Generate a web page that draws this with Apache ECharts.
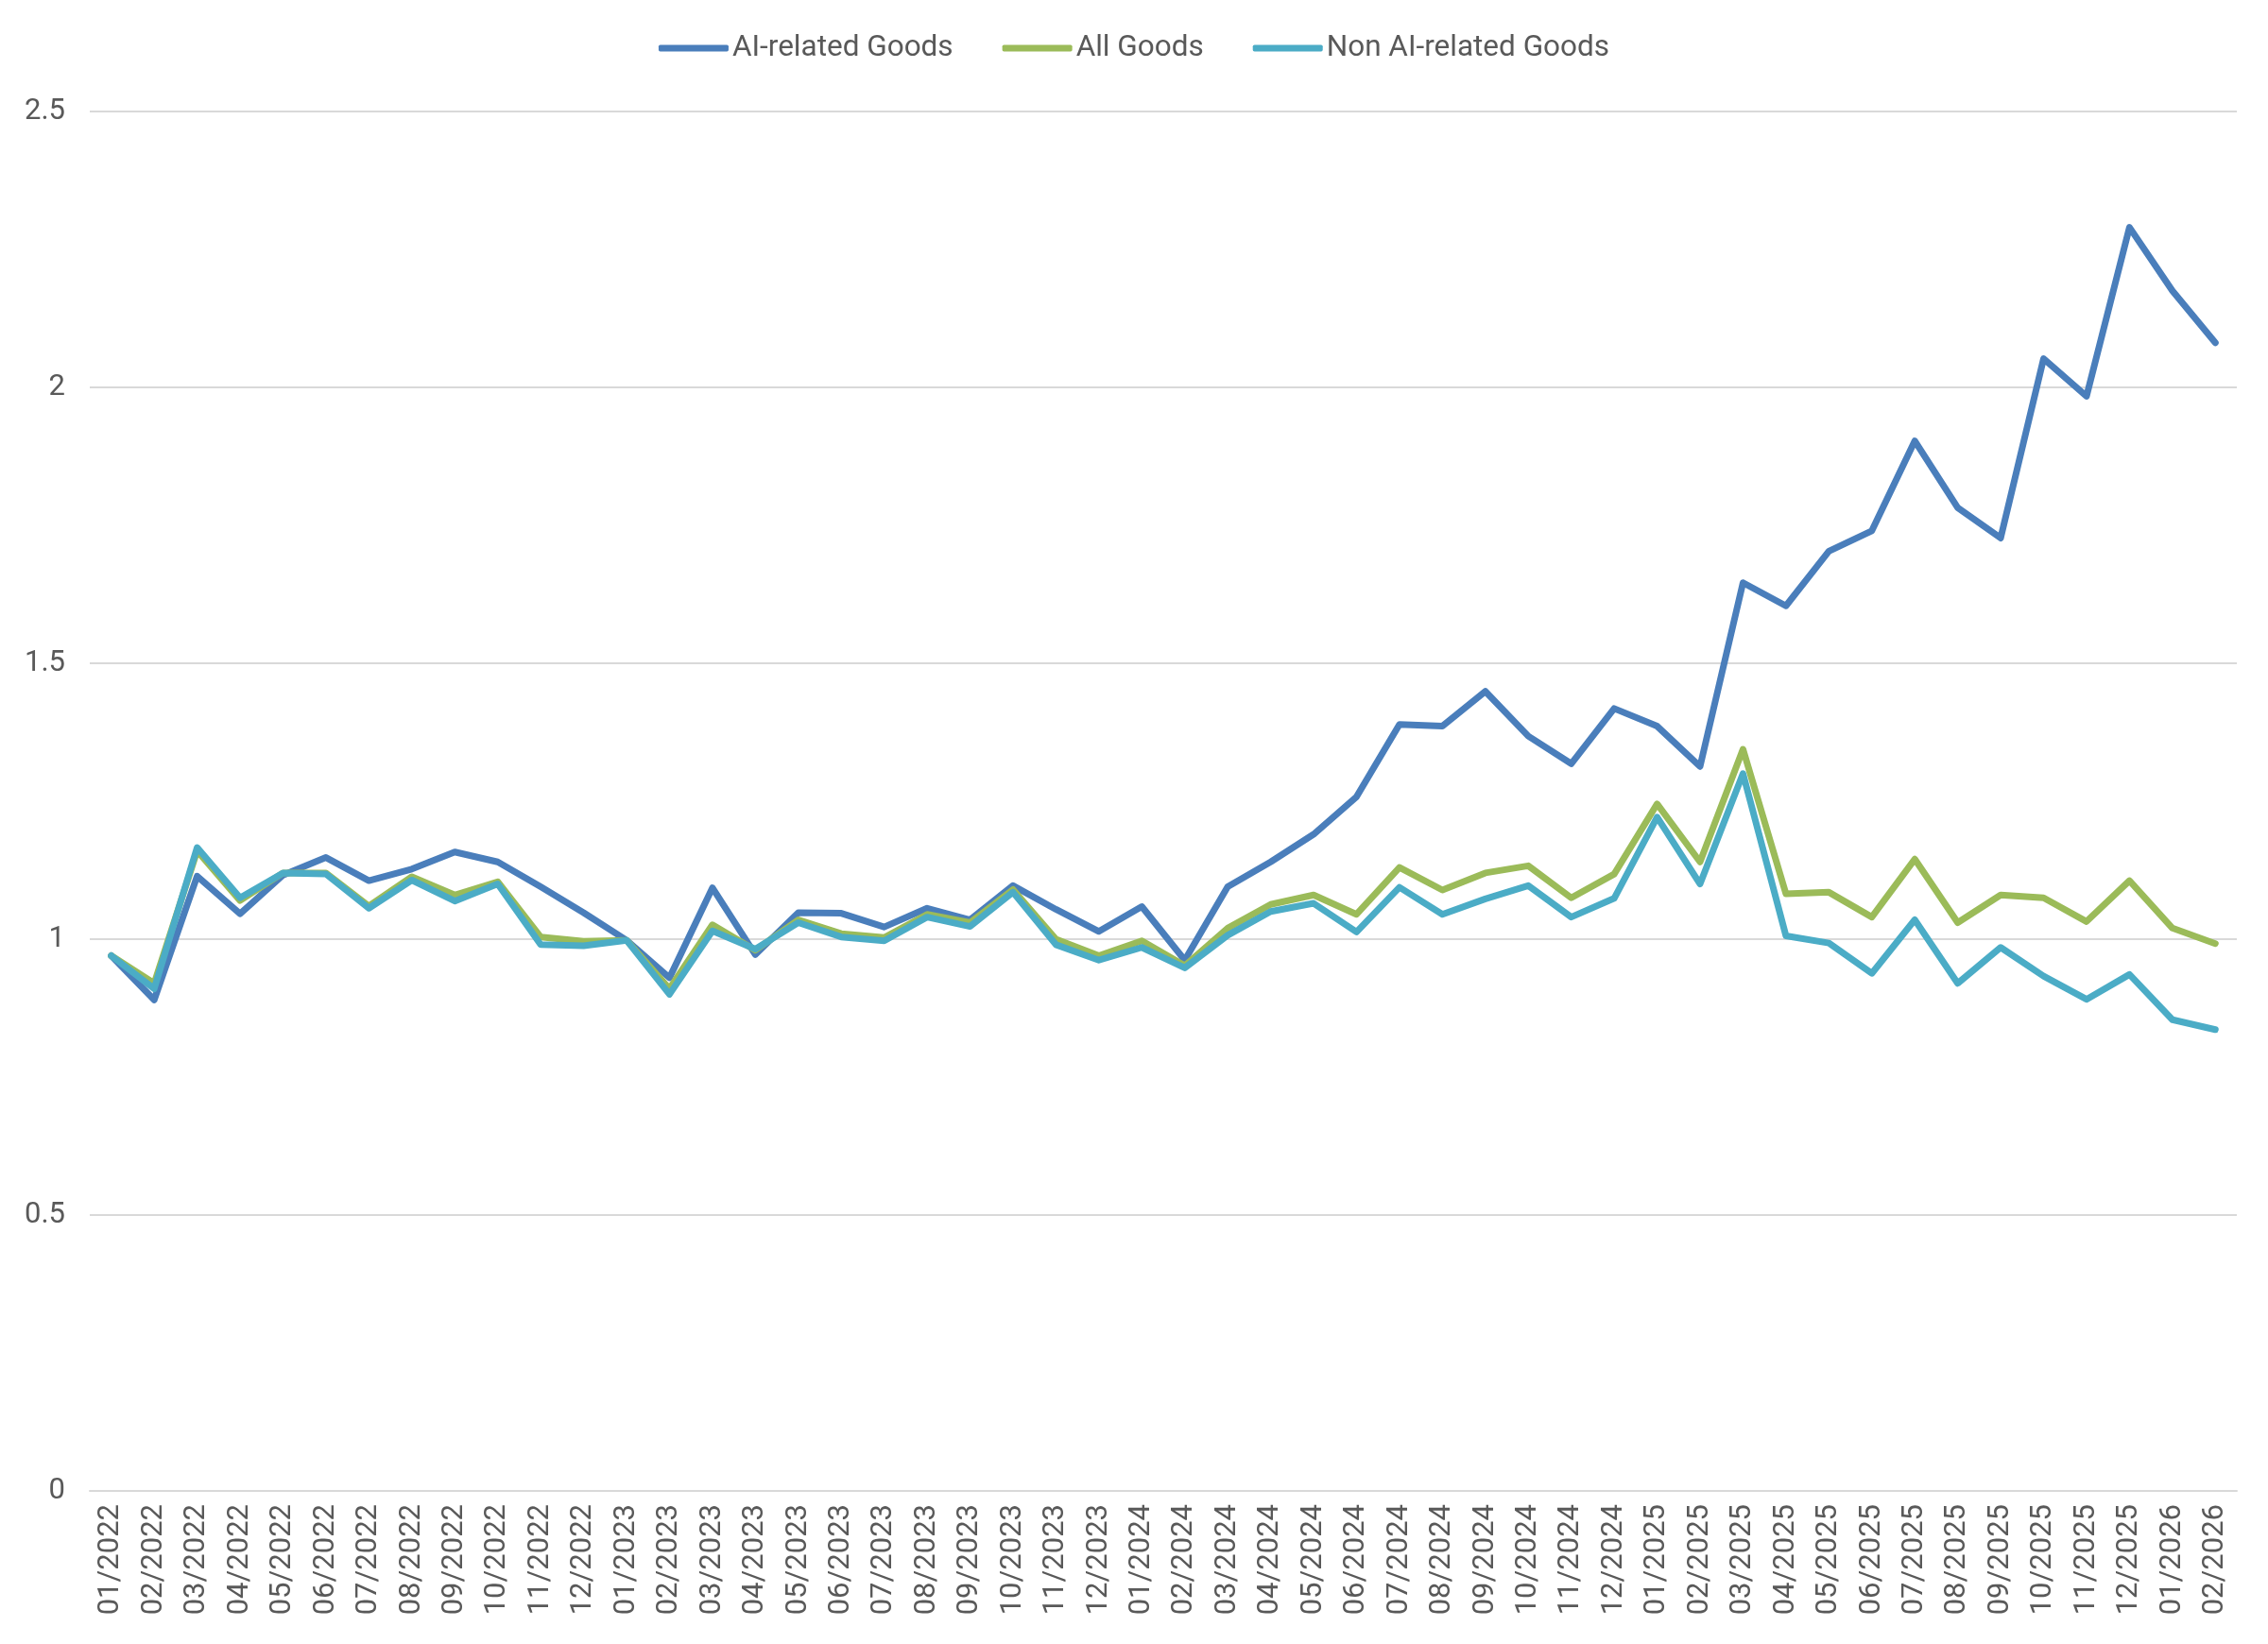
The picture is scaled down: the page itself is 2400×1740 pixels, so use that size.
<!DOCTYPE html>
<html>
<head>
<meta charset="utf-8">
<script src="https://cdn.jsdelivr.net/npm/echarts@6/dist/echarts.min.js"></script>
<style>
  html, body { margin: 0; padding: 0; background: #fff; }
  #chart { width: 2400px; height: 1740px; }
</style>
</head>
<body>
<div id="chart"></div>
<script>
const months = [
  '01/2022', '02/2022', '03/2022', '04/2022', '05/2022', '06/2022', '07/2022', '08/2022', '09/2022', '10/2022', '11/2022', '12/2022',
  '01/2023', '02/2023', '03/2023', '04/2023', '05/2023', '06/2023', '07/2023', '08/2023', '09/2023', '10/2023', '11/2023', '12/2023',
  '01/2024', '02/2024', '03/2024', '04/2024', '05/2024', '06/2024', '07/2024', '08/2024', '09/2024', '10/2024', '11/2024', '12/2024',
  '01/2025', '02/2025', '03/2025', '04/2025', '05/2025', '06/2025', '07/2025', '08/2025', '09/2025', '10/2025', '11/2025', '12/2025',
  '01/2026', '02/2026'
];

const aiGoods = [
  0.97, 0.89, 1.114, 1.046, 1.116, 1.148, 1.106, 1.127, 1.158, 1.14, 1.095, 1.048,
  0.998, 0.93, 1.093, 0.972, 1.048, 1.047, 1.022, 1.056, 1.035, 1.097, 1.054, 1.014,
  1.059, 0.962, 1.095, 1.14, 1.19, 1.258, 1.389, 1.386, 1.449, 1.368, 1.318, 1.418,
  1.386, 1.313, 1.646, 1.604, 1.703, 1.74, 1.903, 1.782, 1.727, 2.052, 1.984, 2.29,
  2.175, 2.081
];

const allGoods = [
  0.97, 0.92, 1.16, 1.07, 1.12, 1.12, 1.06, 1.113, 1.08, 1.104, 1.004, 0.996,
  0.998, 0.91, 1.026, 0.98, 1.035, 1.01, 1.003, 1.045, 1.03, 1.09, 1.0, 0.97,
  0.997, 0.952, 1.02, 1.063, 1.08, 1.045, 1.13, 1.089, 1.12, 1.133, 1.075, 1.118,
  1.245, 1.14, 1.344, 1.082, 1.085, 1.04, 1.145, 1.03, 1.08, 1.075, 1.032, 1.106,
  1.02, 0.992
];

const nonAiGoods = [
  0.97, 0.91, 1.166, 1.075, 1.12, 1.118, 1.056, 1.107, 1.069, 1.10, 0.99, 0.988,
  0.998, 0.90, 1.015, 0.982, 1.03, 1.004, 0.997, 1.04, 1.023, 1.085, 0.99, 0.962,
  0.985, 0.948, 1.007, 1.05, 1.065, 1.013, 1.094, 1.045, 1.073, 1.097, 1.04, 1.074,
  1.221, 1.10, 1.30, 1.006, 0.993, 0.938, 1.035, 0.92, 0.985, 0.933, 0.891, 0.936,
  0.854, 0.836
];

var chartDom = document.getElementById('chart');
var myChart = echarts.init(chartDom);

var textColor = '#595959';
var fontFamily = 'Roboto, sans-serif';

var option = {
  backgroundColor: '#ffffff',
  animation: false,
  legend: {
    top: 30,
    left: 'center',
    icon: 'roundRect',
    itemWidth: 74,
    itemHeight: 7,
    itemGap: 52,
    textStyle: {
      color: textColor,
      fontSize: 31.5,
      fontFamily: fontFamily,
      padding: [0, 0, 0, -1]
    },
    data: ['AI-related Goods', 'All Goods', 'Non AI-related Goods']
  },
  grid: {
    left: 95,
    right: 33,
    top: 118,
    bottom: 162,
    containLabel: false
  },
  xAxis: {
    type: 'category',
    data: months,
    boundaryGap: true,
    axisLine: { show: true, lineStyle: { color: '#d9d9d9', width: 2 } },
    axisTick: { show: false },
    axisLabel: {
      rotate: 90,
      interval: 0,
      margin: 14,
      color: textColor,
      fontSize: 31,
      fontFamily: fontFamily
    },
    splitLine: { show: false }
  },
  yAxis: {
    type: 'value',
    min: 0,
    max: 2.5,
    interval: 0.5,
    axisLine: { show: false },
    axisTick: { show: false },
    axisLabel: {
      margin: 26,
      color: textColor,
      fontSize: 31,
      fontFamily: fontFamily
    },
    splitLine: { show: true, lineStyle: { color: '#d9d9d9', width: 2 } }
  },
  series: [
    {
      name: 'AI-related Goods',
      type: 'line',
      data: aiGoods,
      symbol: 'none',
      itemStyle: { color: '#4a7ebb' },
      lineStyle: { color: '#4a7ebb', width: 7, join: 'round', cap: 'round' }
    },
    {
      name: 'All Goods',
      type: 'line',
      data: allGoods,
      symbol: 'none',
      itemStyle: { color: '#9bbb59' },
      lineStyle: { color: '#9bbb59', width: 7, join: 'round', cap: 'round' }
    },
    {
      name: 'Non AI-related Goods',
      type: 'line',
      data: nonAiGoods,
      symbol: 'none',
      itemStyle: { color: '#4bacc6' },
      lineStyle: { color: '#4bacc6', width: 7, join: 'round', cap: 'round' }
    }
  ]
};

option && myChart.setOption(option);
</script>
</body>
</html>
